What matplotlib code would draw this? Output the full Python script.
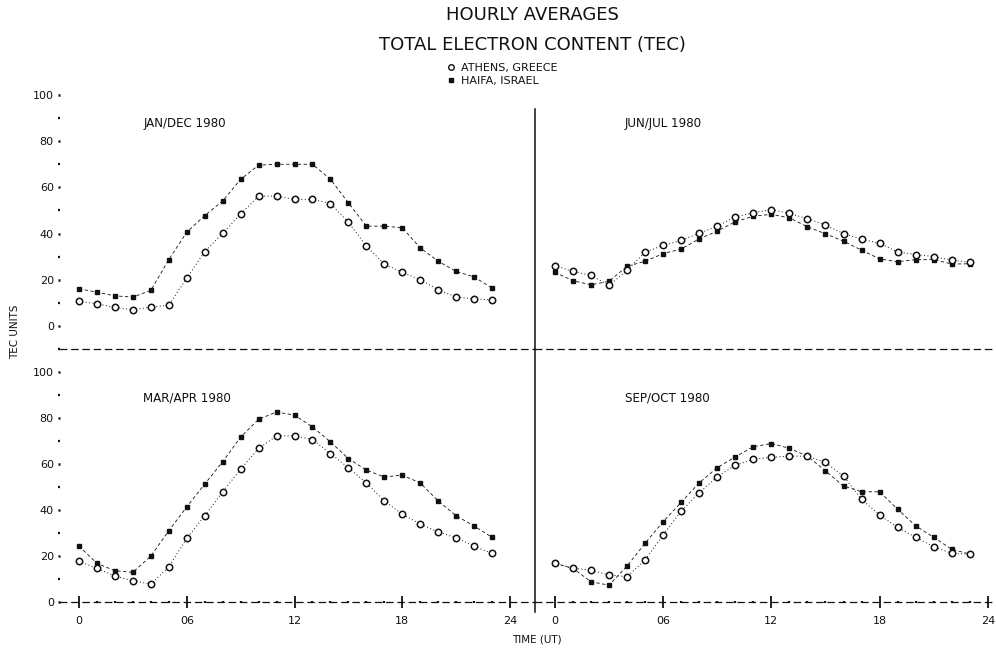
import numpy as np
import matplotlib.pyplot as plt
from matplotlib.lines import Line2D

# hourly TEC averages, 1980 (UT hours 0..23)
hours = np.arange(24)

athens_jan = [10.6, 9.6, 8.0, 7.0, 8.1, 9.0, 20.7, 32.2, 40.1, 48.5, 56.2, 56.2,
              54.8, 54.8, 53.0, 44.9, 34.5, 26.8, 23.2, 20.0, 15.7, 12.5, 11.7, 11.3]
haifa_jan = [16.1, 14.6, 13.0, 12.5, 15.4, 28.7, 40.6, 47.8, 54.1, 63.5, 69.6, 70.0,
             70.0, 70.0, 63.5, 53.3, 43.2, 43.2, 42.5, 33.8, 28.0, 23.6, 21.2, 16.4]

athens_jun = [26.1, 23.6, 21.9, 17.5, 24.1, 31.9, 34.9, 37.0, 40.1, 43.2, 47.2, 49.0,
              50.4, 48.7, 46.4, 43.6, 40.0, 37.5, 35.8, 32.0, 30.9, 30.0, 28.5, 27.5]
haifa_jun = [23.2, 19.6, 17.8, 19.3, 25.8, 28.0, 31.3, 33.3, 37.7, 41.0, 45.1, 47.5,
             48.3, 46.8, 42.9, 39.9, 36.7, 32.8, 29.0, 27.8, 28.7, 28.7, 26.8, 26.9]

athens_mar = [17.7, 14.5, 11.2, 9.1, 7.7, 15.2, 27.6, 37.4, 47.8, 57.7, 66.7, 72.2,
              72.2, 70.6, 64.5, 58.3, 51.7, 43.9, 38.1, 33.8, 30.4, 27.8, 24.2, 21.0]
haifa_mar = [24.2, 16.7, 13.5, 12.8, 19.9, 30.9, 41.3, 51.2, 60.9, 71.7, 79.4, 82.6,
             81.2, 76.1, 69.6, 62.3, 57.3, 54.3, 55.1, 51.7, 43.9, 37.4, 33.0, 28.0]

athens_sep = [16.7, 14.5, 13.8, 11.6, 10.9, 18.1, 29.0, 39.4, 47.4, 54.3, 59.4, 61.9,
              62.8, 63.3, 63.3, 60.6, 54.6, 44.5, 37.7, 32.3, 28.0, 23.9, 21.0, 20.7]
haifa_sep = [16.7, 14.5, 8.7, 7.2, 15.5, 25.4, 34.8, 43.2, 51.7, 58.3, 63.0, 67.4,
             68.8, 66.7, 63.3, 56.9, 50.3, 47.8, 47.8, 40.2, 33.0, 28.0, 22.8, 20.7]

panel_titles = ['JAN/DEC 1980', 'JUN/JUL 1980', 'MAR/APR 1980', 'SEP/OCT 1980']
station_names = ['ATHENS, GREECE', 'HAIFA, ISRAEL']
y_ticks = [0, 20, 40, 60, 80, 100]
x_ticks = [0, 6, 12, 18, 24]
x_ticklabels = ['0', '06', '12', '18', '24']

W, H = 996, 650
fig = plt.figure(figsize=(W / 100, H / 100), dpi=100)
plt.rcParams['font.family'] = 'DejaVu Sans'


def box(left, top, right, bottom):
    # pixel box -> figure fraction rect
    return [left / W, 1 - bottom / H, (right - left) / W, (bottom - top) / H]


ax_tl = fig.add_axes(box(60, 60, 535, 349))
ax_tr = fig.add_axes(box(535, 60, 996, 349))
ax_bl = fig.add_axes(box(60, 349, 535, 650))
ax_br = fig.add_axes(box(535, 349, 996, 650))

panels = [
    (ax_tl, athens_jan, haifa_jan, panel_titles[0]),
    (ax_tr, athens_jun, haifa_jun, panel_titles[1]),
    (ax_bl, athens_mar, haifa_mar, panel_titles[2]),
    (ax_br, athens_sep, haifa_sep, panel_titles[3]),
]

ink = '#111111'
for ax, athens, haifa, title in panels:
    top_row = ax in (ax_tl, ax_tr)
    left_col = ax in (ax_tl, ax_bl)
    ax.patch.set_alpha(0)

    ax.plot(hours, haifa, linestyle=(0, (4, 3)), lw=0.6, color=ink,
            marker='s', ms=3, mfc=ink, mec=ink)
    ax.plot(hours, athens, linestyle=(0, (1, 2.5)), lw=0.7, color=ink,
            marker='o', ms=4.6, mfc='white', mec=ink, mew=1.1)

    if left_col:
        ax.set_xlim(-1.058, 25.39)
    else:
        ax.set_xlim(-1.1, 24.45)
    if top_row:
        ax.set_ylim(-10, 115.15)
    else:
        ax.set_ylim(-21.0, 109.9)

    for s in ('top', 'right'):
        ax.spines[s].set_visible(False)

    # horizontal axis: dashed rule
    ax.spines['bottom'].set_position(('data', -10 if top_row else 0))
    ax.spines['bottom'].set_linestyle((0, (5, 4)))
    ax.spines['bottom'].set_linewidth(0.9)
    ax.spines['bottom'].set_color(ink)

    if top_row:
        ax.set_xticks([])
    else:
        ax.set_xticks(x_ticks)
        ax.set_xticklabels(x_ticklabels)
        ax.set_xticks(hours, minor=True)
        ax.tick_params(axis='x', which='major', direction='inout', length=9,
                       width=1.3, pad=6, labelsize=8, colors=ink)
        ax.tick_params(axis='x', which='minor', direction='inout', length=2,
                       width=1.6, colors=ink)

    if left_col:
        ax.spines['left'].set_visible(False)
        ax.set_yticks(y_ticks)
        if top_row:
            ax.set_yticks(np.arange(-10, 101, 10), minor=True)
        else:
            ax.set_yticks(np.arange(0, 111, 10), minor=True)
        ax.tick_params(axis='y', which='major', direction='out', length=1.5,
                       width=1.8, pad=3, labelsize=8, colors=ink)
        ax.tick_params(axis='y', which='minor', direction='out', length=1.5,
                       width=1.6, colors=ink)
    else:
        ax.spines['left'].set_linewidth(1.1)
        ax.spines['left'].set_color(ink)
        if top_row:
            ax.spines['left'].set_bounds(-10, 93.9)
        else:
            ax.spines['left'].set_bounds(-4.5, 110)
        ax.set_yticks([])

    # season label
    ax.text(0.175 if left_col else 0.195, 0.782 if top_row else 0.837, title,
            transform=ax.transAxes, ha='left', va='center',
            fontsize=8.6, color=ink)

fig.text(0.535, 1 - 15 / H, 'HOURLY AVERAGES', ha='center', va='center',
         fontsize=13, color=ink)
fig.text(0.535, 1 - 45 / H, 'TOTAL ELECTRON CONTENT (TEC)', ha='center',
         va='center', fontsize=13, color=ink)

handles = [
    Line2D([], [], linestyle='none', marker='o', ms=4, mfc='white', mec=ink, mew=1.0),
    Line2D([], [], linestyle='none', marker='s', ms=3, mfc=ink, mec=ink),
]
fig.legend(handles, station_names, loc='upper left',
           bbox_to_anchor=(448 / W, 1 - 63 / H), frameon=False,
           handlelength=0.6, handletextpad=0.6, labelspacing=0.25,
           borderpad=0, borderaxespad=0, fontsize=8, labelcolor=ink)

fig.text(15 / W, 1 - 332 / H, 'TEC UNITS', rotation=90, ha='center',
         va='center', fontsize=7.5, color=ink)
fig.text(537 / W, 1 - 640 / H, 'TIME (UT)', ha='center', va='center',
         fontsize=7.5, color=ink)

fig.savefig('out.png', dpi=100)
